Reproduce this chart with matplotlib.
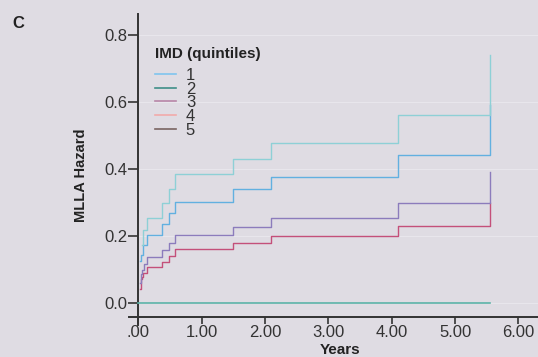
import matplotlib
matplotlib.use("Agg")
import matplotlib.pyplot as plt
from matplotlib.lines import Line2D

# ---- data ----
q1_t = [0.06, 0.08, 0.14, 0.37, 0.48, 0.585, 1.49, 2.09, 4.10, 5.56]
q1_h = [0.172, 0.217, 0.254, 0.297, 0.338, 0.383, 0.428, 0.476, 0.560, 0.739]

q5_t = [0.03, 0.05, 0.07, 0.14, 0.37, 0.48, 0.585, 1.49, 2.09, 4.10, 5.56]
q5_h = [0.125, 0.142, 0.172, 0.202, 0.235, 0.269, 0.300, 0.338, 0.374, 0.441, 0.590]

q3_t = [0.02, 0.04, 0.06, 0.09, 0.14, 0.37, 0.48, 0.585, 1.49, 2.09, 4.10, 5.56]
q3_h = [0.060, 0.085, 0.098, 0.115, 0.135, 0.157, 0.179, 0.202, 0.227, 0.252, 0.297, 0.391]

q4_t = [0.02, 0.04, 0.06, 0.08, 0.14, 0.37, 0.48, 0.585, 1.49, 2.09, 4.10, 5.56]
q4_h = [0.040, 0.070, 0.078, 0.090, 0.106, 0.122, 0.139, 0.159, 0.177, 0.199, 0.230, 0.299]

q2_t = [0.0, 5.56]
q2_h = [0.0, 0.0]

legend_labels = ["1", "2", "3", "4", "5"]
legend_colors = ["#80c4ee", "#3f8f88", "#b886a8", "#f2aaaa", "#7a6462"]

x_ticks = [0, 1, 2, 3, 4, 5, 6]
x_tick_labels = [".00", "1.00", "2.00", "3.00", "4.00", "5.00", "6.00"]
y_ticks = [0.0, 0.2, 0.4, 0.6, 0.8]
y_tick_labels = ["0.0", "0.2", "0.4", "0.6", "0.8"]

BG = "#dfdce3"
plt.rcParams['font.family'] = ['Liberation Sans', 'DejaVu Sans']

W, H = 538, 357
fig = plt.figure(figsize=(W / 100, H / 100), dpi=100, facecolor=BG)
ax = fig.add_axes([129 / W, (H - 316.7) / H, 409 / W, 302.7 / H], facecolor=BG)
ax.set_xlim(-0.147, 6.31)
ax.set_ylim(-0.042, 0.862)

# faint grid
for yv in y_ticks:
    ax.axhline(yv, color="#e8e6ec", lw=0.8, zorder=0)

lw = 1.0
ax.step(q2_t, q2_h, where="post", color="#5cb3a8", lw=1.2, zorder=3)
ax.step(q4_t, q4_h, where="post", color="#c4507a", lw=lw, zorder=3)
ax.step(q3_t, q3_h, where="post", color="#8c7cbc", lw=lw, zorder=3)
ax.step(q5_t, q5_h, where="post", color="#62b0e0", lw=lw, zorder=3)
ax.step(q1_t, q1_h, where="post", color="#8ed0d6", lw=lw, zorder=3)

# spines
for s in ["top", "right"]:
    ax.spines[s].set_visible(False)
ax.spines["left"].set_position(("data", 0))
ax.spines["left"].set_bounds(-0.067, 0.862)
for s in ["left", "bottom"]:
    ax.spines[s].set_color("#333333")
    ax.spines[s].set_linewidth(1.4)
    ax.spines[s].set_clip_on(False)

ax.set_xticks(x_ticks)
ax.set_xticklabels(x_tick_labels)
ax.set_yticks(y_ticks)
ax.set_yticklabels(y_tick_labels)
ax.tick_params(axis="both", colors="#333333", labelcolor="#333333",
               labelsize=12, width=1.2)
ax.tick_params(axis="y", length=7, pad=1)
ax.tick_params(axis="x", length=5, pad=1)

# axis titles
fig.text(81 / W, 1 - 175 / H, "MLLA Hazard", rotation=90, fontsize=10.5,
         fontweight="bold", color="#222222", ha="center", va="center")
fig.text(340 / W, 1 - 350 / H, "Years", fontsize=11, fontweight="bold",
         color="#222222", ha="center", va="center")
fig.text(18 / W, 1 - 23.5 / H, "C", fontsize=12, fontweight="bold",
         color="#222222", ha="center", va="center")

# legend
handles = [Line2D([0], [0], color=c, lw=1.2) for c in legend_colors]
leg = ax.legend(handles, legend_labels, title="IMD (quintiles)",
                loc="upper left", bbox_to_anchor=(155 / W, 1 - 47 / H),
                bbox_transform=fig.transFigure, frameon=False,
                fontsize=12, title_fontproperties={"weight": "bold", "size": 11},
                handlelength=1.25, handletextpad=0.6, labelspacing=-0.08,
                borderpad=0, borderaxespad=0, alignment="left")
leg._legend_box.sep = 5
for t in leg.get_texts():
    t.set_color("#333333")
leg.get_title().set_color("#222222")

fig.savefig("out.png", dpi=100, facecolor=BG)
